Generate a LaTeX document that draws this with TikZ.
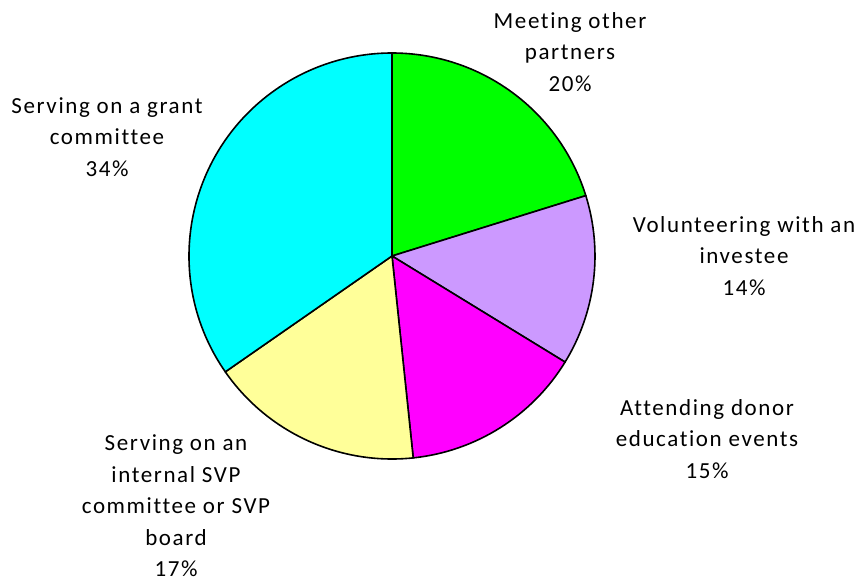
\documentclass[tikz,border=0pt]{standalone}
\usepackage{fontspec}
\setmainfont{Carlito}[LetterSpace=7, Ligatures={NoCommon}]
\usepackage{tikz}
\usetikzlibrary{positioning}
\definecolor{partnergreen}{RGB}{0,255,0}
\definecolor{investeelilac}{RGB}{204,153,255}
\definecolor{eventmagenta}{RGB}{255,0,255}
\definecolor{boardyellow}{RGB}{255,255,153}
\definecolor{grantcyan}{RGB}{0,255,255}
\tikzstyle{slice} = [draw=black, line width=1.6pt, line join=round]
\tikzstyle{pielabel} = [inner sep=0pt, align=center, font=\fontsize{23}{31.5}\selectfont]

\begin{document}
\begin{tikzpicture}[x=1pt,y=1pt]
		\useasboundingbox (0,0) rectangle (863,-581);
		\def\radius{203}
		\coordinate (centre) at (392,-256);
		\coordinate (partners) at (570,-52);
		\coordinate (investee) at (744,-256);
		\coordinate (events) at (707,-439);
		\coordinate (board) at (176,-506);
		\coordinate (grant) at (107,-137);
		% Slices, clockwise from the top
		\filldraw[slice, fill=partnergreen] (centre) -- ++(90:\radius) arc (90:17.3:\radius) -- cycle;
		\filldraw[slice, fill=investeelilac] (centre) -- ++(17.3:\radius) arc (17.3:-31.5:\radius) -- cycle;
		\filldraw[slice, fill=eventmagenta] (centre) -- ++(-31.5:\radius) arc (-31.5:-84:\radius) -- cycle;
		\filldraw[slice, fill=boardyellow] (centre) -- ++(-84:\radius) arc (-84:-145.2:\radius) -- cycle;
		\filldraw[slice, fill=grantcyan] (centre) -- ++(-145.2:\radius) arc (-145.2:-270:\radius) -- cycle;
		% Labels
		\begin{scope}[every node/.style={pielabel}]
		\node[name=partners] at (partners) {Meeting other\\partners\\20\%};
		\node[name=investee] at (investee) {Volunteering with an\\investee\\14\%};
		\node[name=events] at (events) {Attending donor\\education events\\15\%};
		\node[name=board] at (board) {Serving on an\\internal SVP\\committee or SVP\\board\\17\%};
		\node[name=grant] at (grant) {Serving on a grant\\committee\\34\%};
		\end{scope}
		\end{tikzpicture}
\end{document}
